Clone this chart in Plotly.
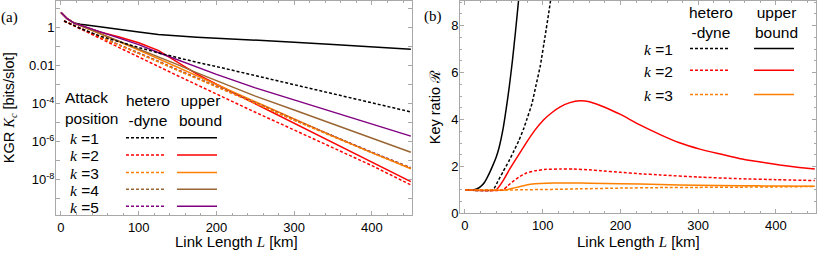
import plotly.graph_objects as go

# ---------------- Panel (a): KGR vs link length (log10 of KGR) ----------------
L_ub = [0, 8, 17, 25, 50, 75, 100, 125, 150, 175, 200, 250, 300, 350, 400, 450]
log_ub_k1 = [0.79, 0.46, 0.23, 0.17, 0.04, -0.11, -0.24, -0.37, -0.45, -0.51, -0.56, -0.65, -0.77, -0.89, -1.02, -1.14]
log_ub_k2 = [0.79, 0.46, 0.23, 0.12, -0.24, -0.50, -0.80, -1.20, -1.82, -2.45, -2.98, -4.00, -5.02, -6.05, -7.07, -8.09]
log_ub_k3 = [0.79, 0.46, 0.23, 0.09, -0.33, -0.75, -1.18, -1.63, -2.08, -2.53, -2.98, -3.90, -4.82, -5.71, -6.57, -7.41]
log_ub_k4 = [0.79, 0.46, 0.23, 0.10, -0.30, -0.70, -1.10, -1.53, -1.95, -2.38, -2.80, -3.60, -4.33, -5.06, -5.80, -6.55]
log_ub_k5 = [0.79, 0.46, 0.23, 0.12, -0.22, -0.54, -0.90, -1.31, -1.70, -2.09, -2.46, -3.17, -3.81, -4.44, -5.07, -5.70]

L_het = [4, 25, 50, 75, 100, 125, 150, 175, 200, 250, 300, 350, 400, 450]
log_het_k1 = [0.34, -0.05, -0.45, -0.76, -1.05, -1.33, -1.60, -1.83, -2.05, -2.52, -2.98, -3.48, -3.96, -4.43]
log_het_k2 = [0.34, -0.08, -0.57, -1.06, -1.55, -2.04, -2.53, -3.02, -3.50, -4.45, -5.38, -6.30, -7.25, -8.26]
log_het_k3 = [0.34, -0.06, -0.50, -0.93, -1.35, -1.80, -2.25, -2.68, -3.10, -3.98, -4.87, -5.74, -6.58, -7.39]
log_het_k4 = [0.34, -0.05, -0.49, -0.92, -1.34, -1.78, -2.23, -2.66, -3.08, -3.96, -4.85, -5.72, -6.56, -7.37]
log_het_k5 = [0.34, -0.05, -0.48, -0.91, -1.33, -1.77, -2.22, -2.65, -3.07, -3.95, -4.84, -5.71, -6.55, -7.36]

# ---------------- Panel (b): key ratio ----------------
L_r_ub1 = [0, 10, 15, 20, 25, 30, 36, 40, 44, 49, 53, 57, 61, 65, 69, 73]
R_ub1 = [1, 1, 1.04, 1.14, 1.32, 1.62, 2.06, 2.38, 2.82, 3.6, 4.45, 5.4, 6.5, 7.75, 9.1, 10.5]
L_r_het1 = [0, 36, 42, 49, 56, 62, 69, 75, 80, 86, 91, 97, 103, 108, 112, 115]
R_het1 = [1, 1, 1.35, 1.78, 2.2, 2.6, 3.08, 3.57, 4.05, 4.66, 5.4, 6.31, 7.54, 8.6, 9.5, 10.2]
L_r_ub2 = [0, 40, 50, 58, 70, 79, 90, 101, 112, 122, 135, 148, 160, 174, 187, 200, 225, 251, 275, 302, 330, 354, 380, 405, 430, 450]
R_ub2 = [1, 1, 1.45, 1.92, 2.55, 3.02, 3.55, 3.98, 4.3, 4.53, 4.72, 4.8, 4.76, 4.6, 4.42, 4.22, 3.77, 3.36, 3.02, 2.74, 2.52, 2.33, 2.19, 2.06, 1.96, 1.89]
L_r_het2 = [0, 49, 55, 62, 70, 79, 90, 105, 122, 139, 160, 174, 200, 225, 251, 300, 354, 400, 450]
R_het2 = [1, 1, 1.18, 1.37, 1.56, 1.72, 1.82, 1.88, 1.89, 1.89, 1.86, 1.82, 1.75, 1.69, 1.64, 1.55, 1.48, 1.44, 1.40]
L_r_ub3 = [0, 52, 60, 70, 79, 90, 105, 122, 139, 160, 200, 251, 300, 354, 400, 450]
R_ub3 = [1, 1, 1.06, 1.14, 1.21, 1.26, 1.29, 1.30, 1.30, 1.29, 1.27, 1.23, 1.20, 1.18, 1.17, 1.16]
L_r_het3 = [0, 55, 80, 100, 122, 150, 200, 251, 300, 354, 400, 450]
R_het3 = [1, 1, 1.01, 1.02, 1.03, 1.05, 1.08, 1.10, 1.11, 1.12, 1.13, 1.15]

k_labels = ["1", "2", "3", "4", "5"]
ytick_exp = list(range(1, -10, -1))
ytick_text = {0: "1", -2: "0.01", -4: "10<sup>-4</sup>", -6: "10<sup>-6</sup>", -8: "10<sup>-8</sup>"}
xtick_vals = [0, 100, 200, 300, 400]

# ---------------- styling ----------------
W, H = 830, 262
SANS = "Liberation Sans, Arial, sans-serif"
SERIF = "Liberation Serif, Times New Roman, serif"
COLORS = ["#000000", "#ff0000", "#ff8000", "#996633", "#800080"]
DOT = "3px,2px"
LW = 1.5
FRAME = "#a8a8a8"


def px(x, y):
    return x / W, 1 - y / H


fig = go.Figure()

ub_a = [log_ub_k1, log_ub_k2, log_ub_k3, log_ub_k4, log_ub_k5]
het_a = [log_het_k1, log_het_k2, log_het_k3, log_het_k4, log_het_k5]

for i, ys in enumerate(ub_a):
    fig.add_trace(go.Scatter(x=L_ub, y=[10 ** v for v in ys], mode="lines",
                             line=dict(color=COLORS[i], width=LW),
                             xaxis="x", yaxis="y", showlegend=False))
for i in [4, 3, 2, 1, 0]:
    fig.add_trace(go.Scatter(x=L_het, y=[10 ** v for v in het_a[i]], mode="lines",
                             line=dict(color=COLORS[i], width=LW, dash=DOT),
                             xaxis="x", yaxis="y", showlegend=False))

ub_b = [(L_r_ub1, R_ub1), (L_r_ub2, R_ub2), (L_r_ub3, R_ub3)]
het_b = [(L_r_het1, R_het1), (L_r_het2, R_het2), (L_r_het3, R_het3)]
for i, (xs, ys) in enumerate(ub_b):
    fig.add_trace(go.Scatter(x=xs, y=ys, mode="lines",
                             line=dict(color=COLORS[i], width=LW, shape="spline", smoothing=0.4),
                             xaxis="x2", yaxis="y2", showlegend=False))
for i, (xs, ys) in enumerate(het_b):
    fig.add_trace(go.Scatter(x=xs, y=ys, mode="lines",
                             line=dict(color=COLORS[i], width=LW, dash=DOT, shape="spline", smoothing=0.4),
                             xaxis="x2", yaxis="y2", showlegend=False))

axis_common = dict(showline=True, linecolor=FRAME, linewidth=1, mirror="allticks",
                   ticks="inside", tickcolor=FRAME, showgrid=False, zeroline=False,
                   tickfont=dict(family=SANS, size=13, color="#000"))

fig.update_layout(
    width=W, height=H, margin=dict(l=0, r=0, t=0, b=0),
    paper_bgcolor="white", plot_bgcolor="white",
    xaxis=dict(domain=[56 / W, 412 / W], range=[-6.4, 451.5], anchor="y",
               tickvals=xtick_vals, ticklen=4,
               minor=dict(dtick=20, tick0=0, ticks="inside", ticklen=2, tickcolor=FRAME),
               **axis_common),
    yaxis=dict(domain=[1 - 222 / H, 1], type="log", range=[-9.86, 1.39], anchor="x",
               tickvals=[10 ** e for e in ytick_exp],
               ticktext=[ytick_text.get(e, "") for e in ytick_exp], ticklen=4,
               ticklabelstandoff=-2,
               **axis_common),
    xaxis2=dict(domain=[460 / W, 816 / W], range=[-6.4, 451.5], anchor="y2",
                tickvals=xtick_vals, ticklen=4,
                minor=dict(dtick=20, tick0=0, ticks="inside", ticklen=2, tickcolor=FRAME),
                **axis_common),
    yaxis2=dict(domain=[1 - 220 / H, 1], range=[0, 9.05], anchor="x2",
                tickvals=[0, 2, 4, 6, 8], ticklen=4, ticklabelstandoff=-2,
                minor=dict(dtick=0.5, tick0=0, ticks="inside", ticklen=2, tickcolor=FRAME),
                **axis_common),
)

ann = []


def text(x, y, s, size=15, family=SANS, xanchor="left", yanchor="middle", angle=0):
    ax, ay = px(x, y)
    ann.append(dict(x=ax, y=ay, xref="paper", yref="paper", text=s, showarrow=False,
                    xanchor=xanchor, yanchor=yanchor, textangle=angle,
                    font=dict(family=family, size=size, color="#000")))


kspan = '<span style="font-family:Liberation Serif"><i>k</i></span> ='
Lspan = '<span style="font-family:Liberation Serif"><i>L</i></span>'

# panel labels
text(9.5, 17, "(a)", size=15, family=SERIF, xanchor="center")
text(433, 16, "(b)", size=15, family=SERIF, xanchor="center")

# axis titles
text(236, 249.5, "Link Length " + Lspan + " [km]", xanchor="center")
text(638, 249, "Link Length " + Lspan + " [km]", xanchor="center")
text(10, 111, 'KGR <span style="font-family:Liberation Serif"><i>K</i><sub><i>c</i></sub></span> [bits/slot]',
     size=14.5, xanchor="center", angle=-90)
text(435, 110, 'Key ratio <span style="font-family:DejaVu Serif">ℛ</span>', size=14.5,
     xanchor="center", angle=-90)

# legend (a)
text(63, 99.5, "Attack", size=15.5)
text(63, 122, "position", size=15.5)
text(124, 113.5, "hetero<br>-dyne", size=15.5)
text(177, 113.5, "upper<br>bound", size=15.5)
rows_a = [141.7, 159.5, 177.5, 195, 212.5]
shapes = []
for i, yy in enumerate(rows_a):
    text(67.5, yy + 1, kspan + k_labels[i], size=15.5)
    x0, y0 = px(126, yy)
    x1, _ = px(165, yy)
    shapes.append(dict(type="line", xref="paper", yref="paper", x0=x0, x1=x1, y0=y0, y1=y0,
                       line=dict(color=COLORS[i], width=LW, dash=DOT)))
    x0, _ = px(177, yy)
    x1, _ = px(217, yy)
    shapes.append(dict(type="line", xref="paper", yref="paper", x0=x0, x1=x1, y0=y0, y1=y0,
                       line=dict(color=COLORS[i], width=LW)))

# legend (b)
text(687, 22, "hetero<br>-dyne", size=15.5)
text(752.5, 22, "upper<br>bound", size=15.5)
rows_b = [49.3, 71.7, 96.7]
for i, yy in enumerate(rows_b):
    text(641.5, yy + 1, kspan + k_labels[i], size=15.5)
    x0, y0 = px(690, yy)
    x1, _ = px(729, yy)
    shapes.append(dict(type="line", xref="paper", yref="paper", x0=x0, x1=x1, y0=y0, y1=y0,
                       line=dict(color=COLORS[i], width=LW, dash=DOT)))
    x0, _ = px(754, yy)
    x1, _ = px(794, yy)
    shapes.append(dict(type="line", xref="paper", yref="paper", x0=x0, x1=x1, y0=y0, y1=y0,
                       line=dict(color=COLORS[i], width=LW)))

fig.update_layout(annotations=ann, shapes=shapes)
fig.write_html("out.html", config={"displayModeBar": False},
               post_script="document.body.style.margin='0';document.body.style.overflow='hidden';")
